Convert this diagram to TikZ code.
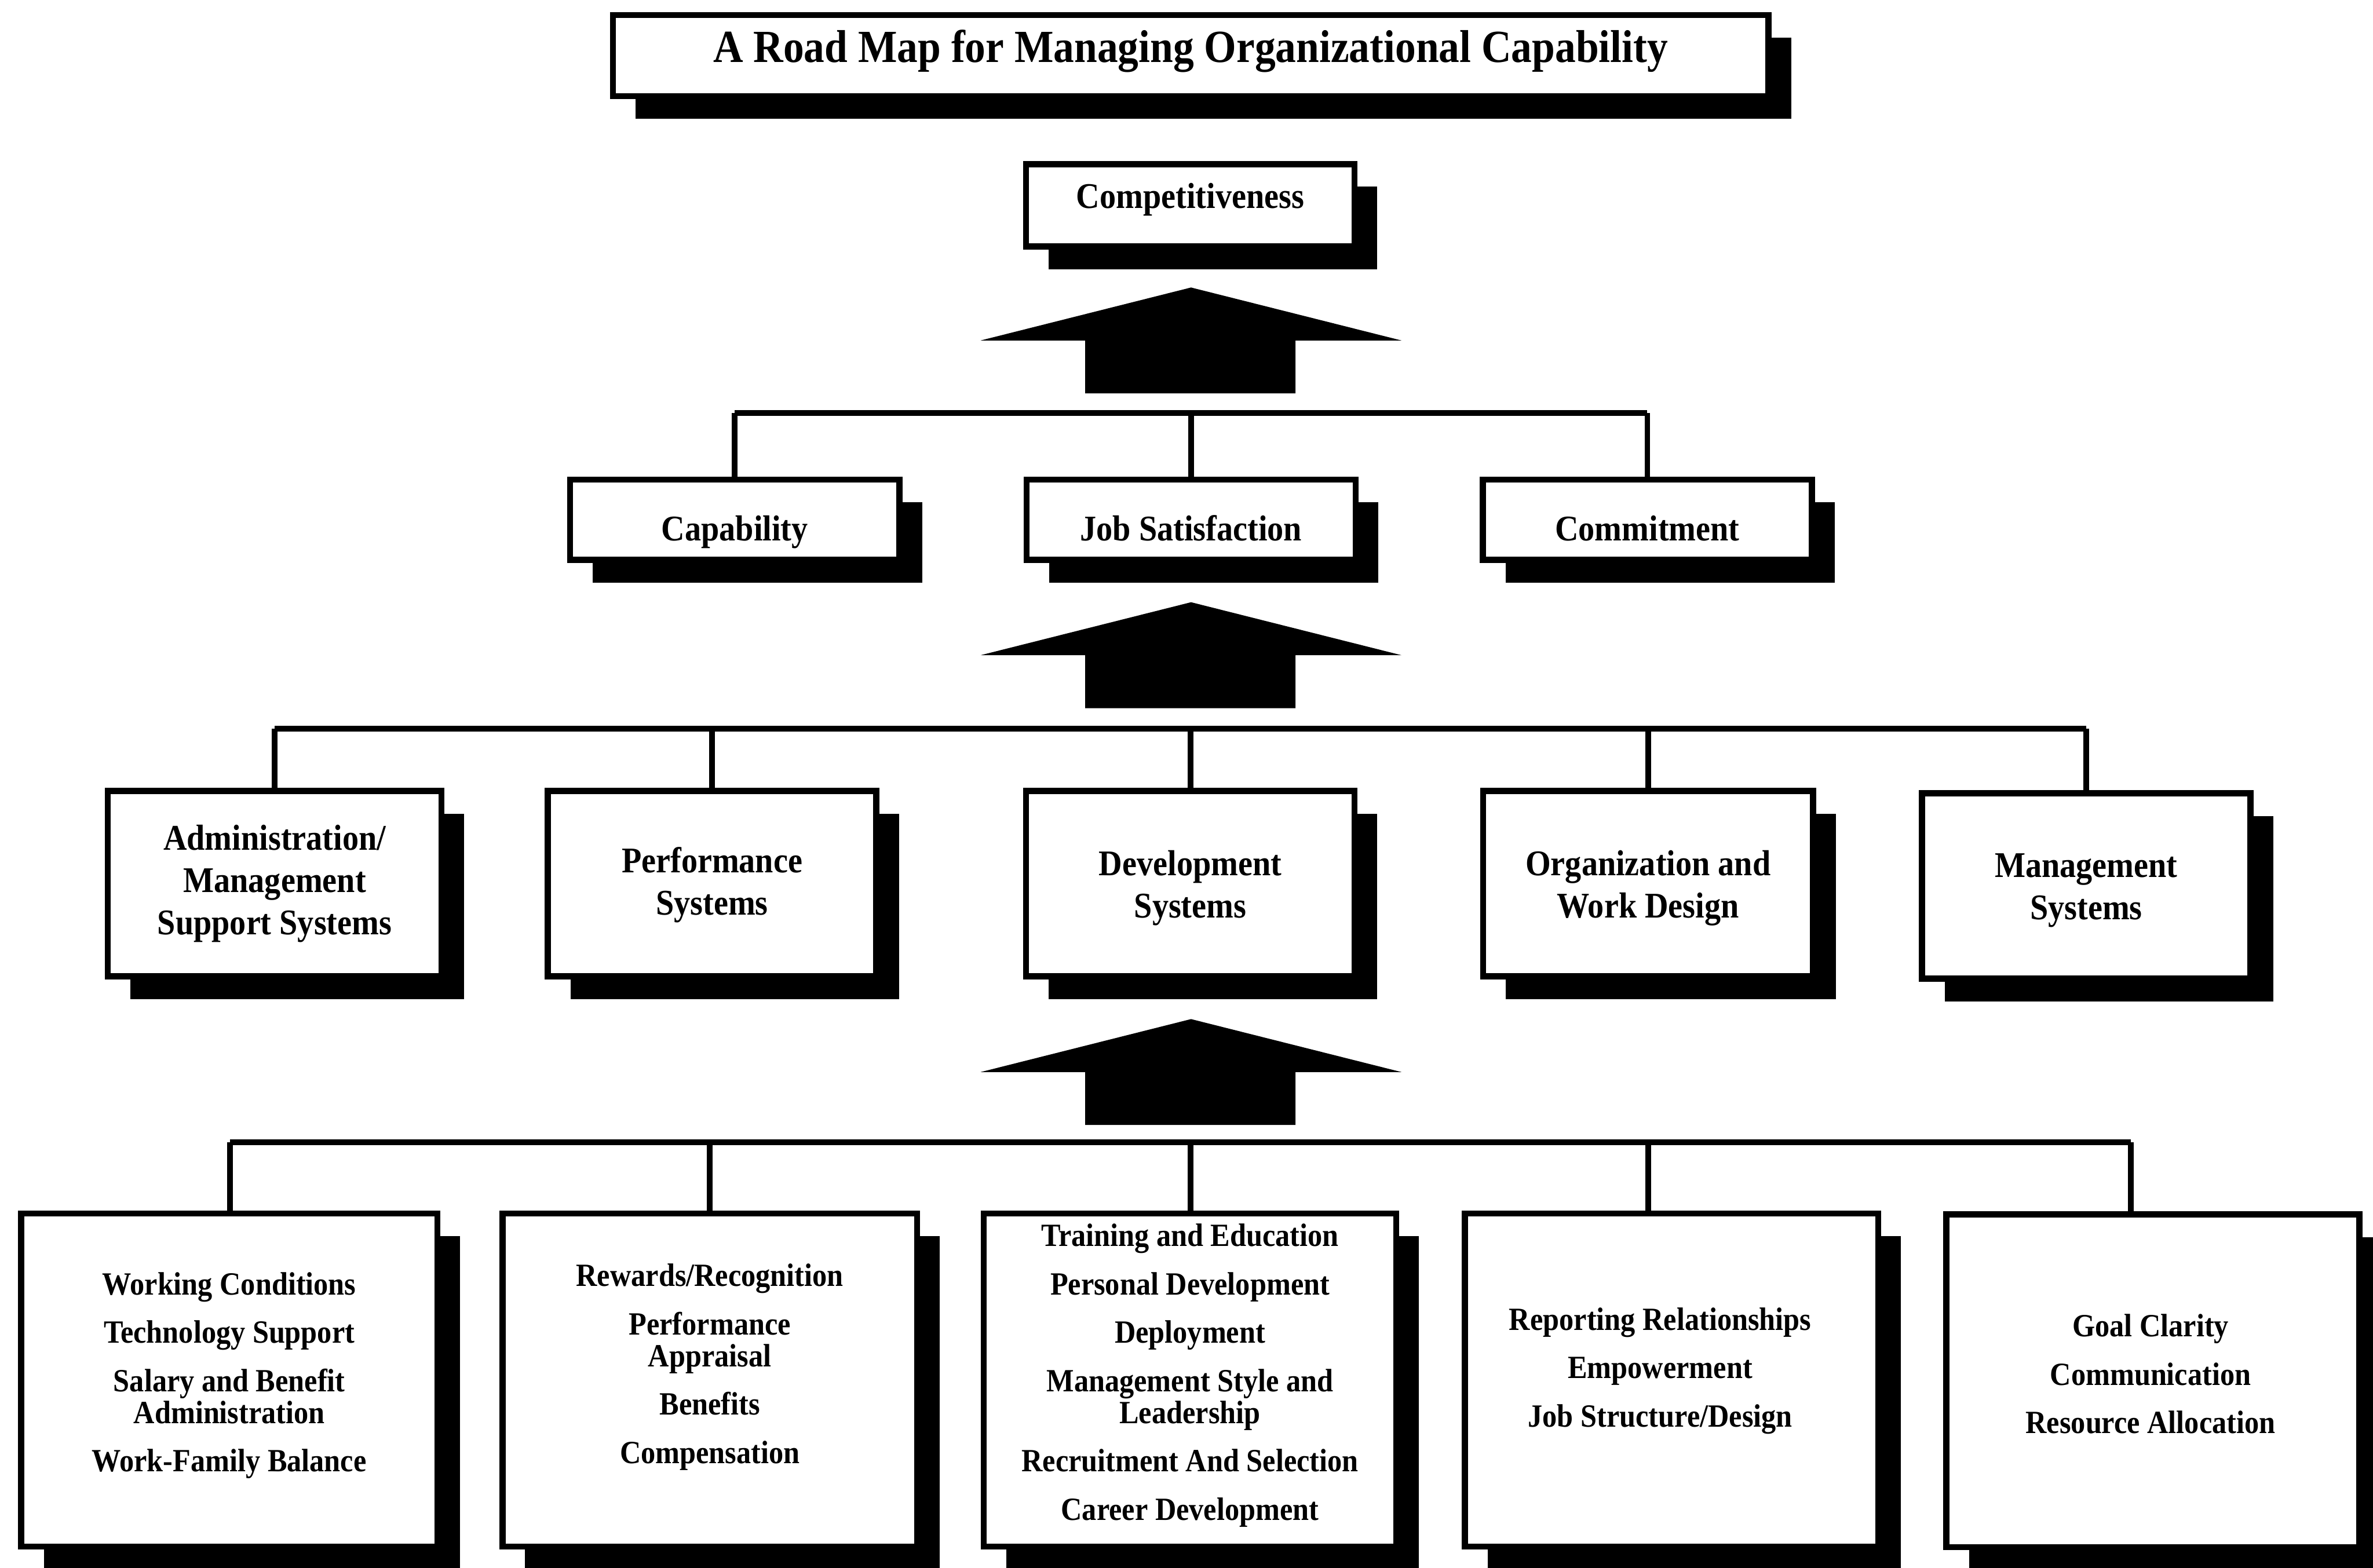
\documentclass[tikz,border=0pt]{standalone}
\usepackage{fontspec}
\setmainfont{Liberation Serif}[FakeStretch=0.9]
\usetikzlibrary{shadows,calc}
\tikzset{
  boxst/.style={draw, line width=4pt, fill=white, inner sep=0pt,
    drop shadow={shadow xshift=15pt, shadow yshift=-15pt, fill=black, opacity=1}},
  conn/.style={line width=3.8pt},
  lblA/.style={font=\fontsize{30.4}{34}\selectfont\bfseries, align=center, inner sep=0pt},
  lblB/.style={font=\fontsize{23.9}{28}\selectfont\bfseries, align=center, inner sep=0pt},
  lblC/.style={font=\fontsize{21.4}{21}\selectfont\bfseries, align=center, inner sep=0pt},
  bigarrow/.pic={\fill (0,0) -- (139,35) -- (69,35) -- (69,70) -- (-70,70) -- (-70,35) -- (-139,35) -- cycle;}
}
\begin{document}
\begin{tikzpicture}[x=1pt,y=-1pt]
\useasboundingbox (0,0) rectangle (1568,1036);
\fill[white] (0,0) rectangle (1568,1036);

% title
\node[boxst, minimum width=763.5pt, minimum height=53.5pt] (title) at (786.7,36.7) {};
\node[lblA] (ttitle) at ($(title.center)+(0,-3)$) {A Road Map for Managing Organizational Capability};

% competitiveness
\node[boxst, minimum width=217pt, minimum height=54.5pt] (comp) at (786.5,135.7) {};
\node[lblB] (tcomp) at ($(comp.center)+(0,-4)$) {Competitiveness};

\pic at (787,190) {bigarrow};

% level 2
\foreach \n/\x in {cap/485.5, job/787, com/1088.5}
  \node[boxst, minimum width=217.5pt, minimum height=53pt] (\n) at (\x,343.5) {};
\node[lblB, anchor=base] (tcap) at (cap.center |- 0,357.5) {Capability};
\node[lblB, anchor=base] (tjob) at (job.center |- 0,357.5) {Job Satisfaction};
\node[lblB, anchor=base] (tcom) at (com.center |- 0,357.5) {Commitment};

\coordinate (b1) at (787,273);
\draw[conn] (cap.north |- b1) -- (com.north |- b1);
\foreach \n in {cap,job,com} \draw[conn] (\n.north |- b1) -- (\n.north);

\pic at (787,398) {bigarrow};

% level 3
\node[boxst, minimum width=220.5pt, minimum height=122.5pt] (adm) at (181.5,584) {};
\node[boxst, minimum width=217pt, minimum height=122.5pt] (per) at (470.5,584) {};
\node[boxst, minimum width=217pt, minimum height=122.5pt] (dev) at (786.5,584) {};
\node[boxst, minimum width=218pt, minimum height=122.5pt] (org) at (1089,584) {};
\node[boxst, minimum width=217pt, minimum height=122.5pt] (mgt) at (1378.5,585.5) {};
\node[lblB] (tadm) at (adm.center) {Administration/\\Management\\Support Systems};
\node[lblB] (tper) at ($(per.center)+(0,1)$) {Performance\\Systems};
\node[lblB] (tdev) at ($(dev.center)+(0,3)$) {Development\\Systems};
\node[lblB] (torg) at ($(org.center)+(0,3)$) {Organization and\\Work Design};
\node[lblB] (tmgt) at ($(mgt.center)+(0,3)$) {Management\\Systems};

\coordinate (b2) at (787,481.5);
\draw[conn] (adm.north |- b2) -- (mgt.north |- b2);
\foreach \n in {adm,per,dev,org,mgt} \draw[conn] (\n.north |- b2) -- (\n.north);

\pic at (787,673.5) {bigarrow};

% level 4
\node[boxst, minimum width=275pt, minimum height=220pt] (r1) at (151.5,912) {};
\node[boxst, minimum width=274pt, minimum height=220pt] (r2) at (469,912) {};
\node[boxst, minimum width=272.5pt, minimum height=220pt] (r3) at (786.3,912) {};
\node[boxst, minimum width=273pt, minimum height=220pt] (r4) at (1104.5,912) {};
\node[boxst, minimum width=273pt, minimum height=220pt] (r5) at (1422.5,912.5) {};

\node[lblC] (t1) at (151.5,909) {Working Conditions\\[11pt]Technology Support\\[11pt]Salary and Benefit\\Administration\\[11pt]Work-Family Balance};
\node[lblC] (t2) at (469,903.5) {Rewards/Recognition\\[11pt]Performance\\Appraisal\\[11pt]Benefits\\[11pt]Compensation};
\node[lblC] (t3) at (786.3,909) {Training and Education\\[11pt]Personal Development\\[11pt]Deployment\\[11pt]Management Style and\\Leadership\\[11pt]Recruitment And Selection\\[11pt]Career Development};
\node[lblC] (t4) at (1097,906) {Reporting Relationships\\[11pt]Empowerment\\[11pt]Job Structure/Design};
\node[lblC] (t5) at (1421,908) {Goal Clarity\\[11pt]Communication\\[11pt]Resource Allocation};

\coordinate (k1) at (152,755);
\coordinate (k2) at (469,755);
\coordinate (k3) at (786.5,755);
\coordinate (k4) at (1089,755);
\coordinate (k5) at (1408,755);
\draw[conn] (k1) -- (k5);
\draw[conn] (k1) -- (k1 |- r1.north);
\draw[conn] (k2) -- (k2 |- r2.north);
\draw[conn] (k3) -- (k3 |- r3.north);
\draw[conn] (k4) -- (k4 |- r4.north);
\draw[conn] (k5) -- (k5 |- r5.north);
\end{tikzpicture}
\end{document}
